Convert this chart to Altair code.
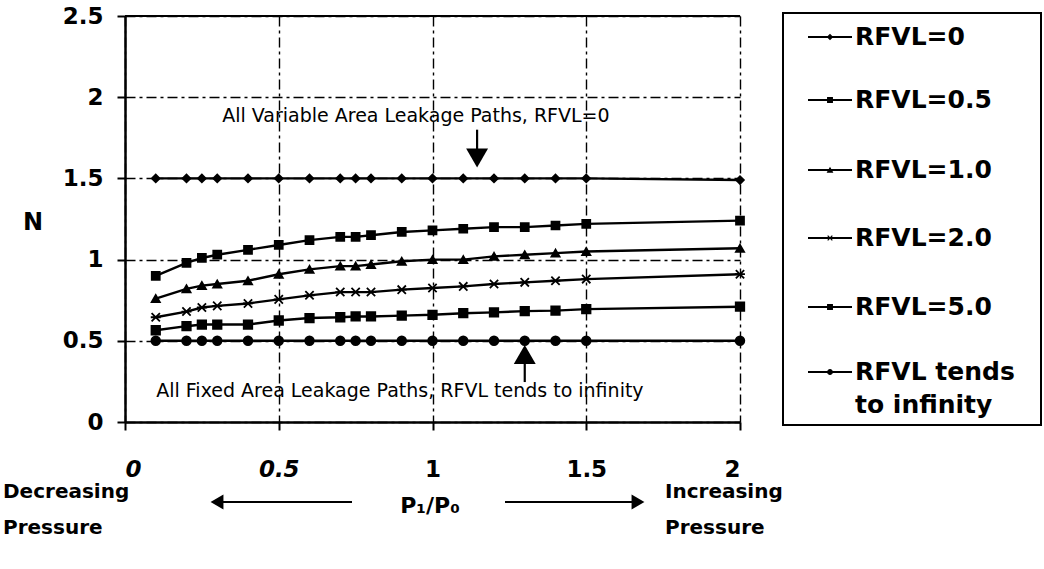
import altair as alt
import pandas as pd

# Pressure ratio P1/P0 at which N was evaluated
p_ratio = [0.1, 0.2, 0.25, 0.3, 0.4, 0.5, 0.6, 0.7, 0.75, 0.8, 0.9, 1.0, 1.1, 1.2, 1.3, 1.4, 1.5, 2.0]

# N for each leakage-path mix
n_rfvl_0 = [1.50, 1.50, 1.50, 1.50, 1.50, 1.50, 1.50, 1.50, 1.50, 1.50, 1.50, 1.50, 1.50, 1.50, 1.50, 1.50, 1.50, 1.49]
n_rfvl_05 = [0.90, 0.98, 1.01, 1.03, 1.06, 1.09, 1.12, 1.14, 1.14, 1.15, 1.17, 1.18, 1.19, 1.20, 1.20, 1.21, 1.22, 1.24]
n_rfvl_1 = [0.76, 0.82, 0.84, 0.85, 0.87, 0.91, 0.94, 0.96, 0.96, 0.97, 0.99, 1.00, 1.00, 1.02, 1.03, 1.04, 1.05, 1.07]
n_rfvl_2 = [0.645, 0.68, 0.705, 0.715, 0.73, 0.755, 0.78, 0.80, 0.80, 0.80, 0.815, 0.825, 0.835, 0.85, 0.86, 0.87, 0.88, 0.91]
n_rfvl_5 = [0.565, 0.59, 0.60, 0.60, 0.60, 0.625, 0.64, 0.645, 0.65, 0.65, 0.655, 0.66, 0.67, 0.675, 0.683, 0.686, 0.695, 0.71]
n_rfvl_inf = [0.50, 0.50, 0.50, 0.50, 0.50, 0.50, 0.50, 0.50, 0.50, 0.50, 0.50, 0.50, 0.50, 0.50, 0.50, 0.50, 0.50, 0.50]

series_labels = ["RFVL=0", "RFVL=0.5", "RFVL=1.0", "RFVL=2.0", "RFVL=5.0", "RFVL tends to infinity"]
series_values = [n_rfvl_0, n_rfvl_05, n_rfvl_1, n_rfvl_2, n_rfvl_5, n_rfvl_inf]
legend_lines = [["RFVL=0"], ["RFVL=0.5"], ["RFVL=1.0"], ["RFVL=2.0"], ["RFVL=5.0"], ["RFVL tends", "to infinity"]]

x_ticks = [0, 0.5, 1, 1.5, 2]
y_ticks = [0, 0.5, 1, 1.5, 2, 2.5]

X_MARK = "M-1,-1L1,1M-1,1L1,-1M-1.2,0L1.2,0"
marker_shapes = ["diamond", "square", "triangle-up", X_MARK, "square", "circle"]
marker_sizes = [60, 75, 85, 65, 55, 60]

note_x = [0.946, 0.894]
note_y = [1.884, 0.19]
note_text = ["All Variable Area Leakage Paths,  RFVL=0",
             "All Fixed Area Leakage Paths,  RFVL tends to infinity"]

FONT = "DejaVu Sans"
W, H = 615, 406

rows = []
for label, vals in zip(series_labels, series_values):
    for p, n in zip(p_ratio, vals):
        rows.append({"series": label, "p": p, "n": n})
df = pd.DataFrame(rows)

x_enc = alt.X("p:Q", scale=alt.Scale(domain=[0, 2], nice=False),
              axis=alt.Axis(values=x_ticks, format="~g", title=None,
                            grid=True, gridColor="black", gridWidth=1.4,
                            gridDash=[10, 4, 3, 4],
                            domainColor="black", domainWidth=2.5,
                            tickColor="black", tickWidth=2, tickSize=8,
                            labelFont=FONT, labelFontSize=23, labelFontWeight="bold",
                            labelFontStyle={"condition": {"test": "datum.value <= 0.5", "value": "italic"},
                                            "value": "normal"},
                            labelColor="black", labelPadding=28))
y_enc = alt.Y("n:Q", scale=alt.Scale(domain=[0, 2.5], nice=False),
              axis=alt.Axis(values=y_ticks, format="~g", title=None,
                            grid=True, gridColor="black", gridWidth=1.4,
                            gridDash=[10, 4, 3, 4],
                            domainColor="black", domainWidth=2.5,
                            tickColor="black", tickWidth=2, tickSize=8,
                            labelFont=FONT, labelFontSize=23, labelFontWeight="bold",
                            labelColor="black", labelPadding=14))

base = alt.Chart(df)
lines = base.mark_line(color="black", strokeWidth=2.4).encode(x=x_enc, y=y_enc, detail="series:N")
points = base.mark_point(filled=True, fill="black", stroke="black", strokeWidth=1.8, opacity=1).encode(
    x="p:Q", y="n:Q",
    shape=alt.Shape("series:N", scale=alt.Scale(domain=series_labels, range=marker_shapes), legend=None),
    size=alt.Size("series:N", scale=alt.Scale(domain=series_labels, range=marker_sizes), legend=None),
)

one = pd.DataFrame({"k": [0]})
top_border = alt.Chart(one).mark_rule(color="black", strokeWidth=2).encode(
    x=alt.datum(0), x2=alt.datum(2), y=alt.datum(2.5))

notes_df = pd.DataFrame({"x": note_x, "y": note_y, "text": note_text})
notes = alt.Chart(notes_df).mark_text(font=FONT, fontSize=19, align="center", baseline="middle",
                                      color="black").encode(x="x:Q", y="y:Q", text="text:N")

# annotation arrows: shafts and heads
down_arrow = pd.DataFrame({"x": [1.145], "tail": [1.80], "head": [1.625]})
up_arrow = pd.DataFrame({"x": [1.30], "tail": [0.246], "head": [0.415]})
down_shaft = alt.Chart(down_arrow).mark_rule(color="black", strokeWidth=2.2).encode(x="x:Q", y="tail:Q", y2="head:Q")
down_head = alt.Chart(down_arrow).mark_point(shape="triangle-down", filled=True, fill="black",
                                             size=480, opacity=1).encode(x="x:Q", y="head:Q")
up_shaft = alt.Chart(up_arrow).mark_rule(color="black", strokeWidth=2.2).encode(x="x:Q", y="tail:Q", y2="head:Q")
up_head = alt.Chart(up_arrow).mark_point(shape="triangle-up", filled=True, fill="black",
                                         size=480, opacity=1).encode(x="x:Q", y="head:Q")

layers = [lines, top_border, points, notes, down_shaft, down_head, up_shaft, up_head]

# y-axis caption
layers.append(alt.Chart(one).mark_text(text="N", font=FONT, fontSize=24, fontWeight="bold",
                                       align="center", baseline="middle", color="black").encode(
    x=alt.value(-92), y=alt.value(207)))

# captions and arrows under the x axis
def caption(txt, px, py, size=21, align="left"):
    return alt.Chart(one).mark_text(text=txt, font=FONT, fontSize=size, fontWeight="bold",
                                    align=align, baseline="middle", color="black").encode(
        x=alt.value(px), y=alt.value(py))

layers += [
    caption("Decreasing", -122, 476, size=20),
    caption("Pressure", -122, 512, size=20),
    caption("Increasing", 540, 476, size=20),
    caption("Pressure", 540, 512, size=20),
    caption("P\u2081/P\u2080", 305, 490, size=22, align="center"),
]
layers.append(alt.Chart(one).mark_rule(color="black", strokeWidth=2).encode(
    x=alt.value(95), x2=alt.value(227), y=alt.value(486)))
layers.append(alt.Chart(one).mark_point(shape="triangle-left", filled=True, fill="black",
                                        size=220, opacity=1).encode(x=alt.value(92), y=alt.value(486)))
layers.append(alt.Chart(one).mark_rule(color="black", strokeWidth=2).encode(
    x=alt.value(380), x2=alt.value(512), y=alt.value(486)))
layers.append(alt.Chart(one).mark_point(shape="triangle-right", filled=True, fill="black",
                                        size=220, opacity=1).encode(x=alt.value(513), y=alt.value(486)))

# legend box
layers.append(alt.Chart(one).mark_rect(fill="white", stroke="black", strokeWidth=2).encode(
    x=alt.value(658), x2=alt.value(916), y=alt.value(-3), y2=alt.value(409)))
legend_y = [21, 84, 154, 222, 291, 356]
for label, shape, ly, text_lines in zip(series_labels, marker_shapes, legend_y, legend_lines):
    layers.append(alt.Chart(one).mark_rule(color="black", strokeWidth=1.8).encode(
        x=alt.value(683), x2=alt.value(727), y=alt.value(ly)))
    layers.append(alt.Chart(one).mark_point(shape=shape, filled=True, fill="black", stroke="black",
                                            strokeWidth=1.2, size=22, opacity=1).encode(
        x=alt.value(705), y=alt.value(ly)))
    for j, t in enumerate(text_lines):
        layers.append(caption(t, 730, ly + j * 33, size=25))

chart = alt.layer(*layers).properties(
    width=W, height=H,
    autosize=alt.AutoSizeParams(type="none"),
    padding={"left": 125, "top": 16, "right": 304, "bottom": 147},
    background="white",
).configure_view(stroke=None)

chart.save("out.html", embed_options={"renderer": "svg", "actions": False})
